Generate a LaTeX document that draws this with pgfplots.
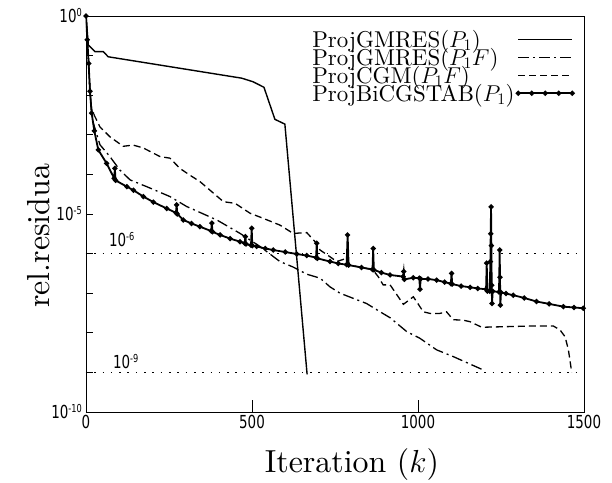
\RequirePackage{fix-cm}
\documentclass[border=0pt]{standalone}
\usepackage{fontspec}
\setmainfont{lmroman10-regular}[Extension=.otf, ItalicFont=lmroman10-italic, BoldFont=lmroman10-bold]
\usepackage{graphicx}
\usepackage{pgfplots}
\pgfplotsset{compat=1.18}
\newfontfamily\tickfont{DejaVu Sans}
\newcommand{\tl}[1]{\scalebox{0.75}[1]{\tickfont\fontsize{18}{18}\selectfont #1}}
\newcommand{\tp}[2]{\scalebox{0.75}[1]{\tickfont\fontsize{18}{18}\selectfont #1\raisebox{6bp}{\fontsize{11}{11}\selectfont #2}}}
\pgfplotsset{bicglegend/.style={legend image code/.code={\draw[##1] plot coordinates {(0bp,0bp) (13.5bp,0bp) (27bp,0bp) (40.5bp,0bp) (54bp,0bp)};}}}
\begin{document}
\begin{tikzpicture}
\begin{axis}[
  scale only axis, width=498bp, height=396bp,
  xmin=0, xmax=1500, ymode=log, ymin=1e-10, ymax=1,
  axis line style={line width=0.8bp},
  tick align=inside, xtick pos=left, ytick pos=left,
  xtick={0,500,1000,1500},
  xticklabels={\tl{0},\tl{500},\tl{1000},\tl{1500}},
  ytick={1e-10,1e-5,1},
  yticklabels={\tp{10}{-10},\tp{10}{-5},\tp{10}{0}},
  minor ytick={1e-9,1e-8,1e-7,1e-6,1e-4,1e-3,1e-2,1e-1},
  major tick length=7bp, minor tick length=7bp,
  xtick style={/pgfplots/major tick length=12bp},
  tick style={black, line width=0.8bp},
  xticklabel style={inner sep=0pt, yshift=-3bp},
  yticklabel style={anchor=base east, inner sep=0pt, xshift=-4bp, yshift=-6.5bp},
  xlabel={Iteration ($k$)},
  ylabel={rel.residua},
  xlabel style={font=\fontsize{32}{38}\selectfont, inner sep=0pt, anchor=base, at={(axis description cs:0.534,-0.1515)}},
  ylabel style={font=\fontsize{32}{38}\selectfont, inner sep=0pt, anchor=south, rotate=0, at={(axis description cs:-0.0723,0.445)}},
  legend style={at={(1,1)}, anchor=north east, xshift=-10bp, yshift=-13.5bp, draw=none, fill=white,
    font=\fontsize{23}{26}\selectfont, inner xsep=0bp, inner ysep=0bp,
    nodes={inner xsep=2bp, inner ysep=0.3bp}, row sep=-1.3bp,
    /tikz/column 2/.style={column sep=13bp}},
  legend cell align=left, legend plot pos=right,
  legend image code/.code={\draw[#1] (0bp,0bp) -- (54bp,0bp);},
]
% ProjGMRES(P1)
\addplot[black, line width=1.4bp] coordinates {
(0,1) (7,1.862e-1) (27,1.259e-1) (52,1.259e-1) (67,9.333e-2) (469,2.692e-2)
(503,2.188e-2) (536,1.585e-2) (569,2.455e-3) (599,1.862e-3) (666,8.913e-10)
};
\addlegendentry{ProjGMRES($P_1$)}
% ProjGMRES(P1F)
\addplot[black, line width=1.3bp, dash pattern=on 11bp off 4bp on 2bp off 4bp] coordinates {
(0,1) (4,2.512e-1) (8,6.310e-2) (12,1.259e-2) (17,3.981e-3) (22,1.995e-3)
(42,5.623e-4) (72,2.818e-4) (102,1.288e-4) (133,7.244e-5) (183,4.898e-5)
(253,2.754e-5) (303,1.549e-5) (394,7.079e-6) (464,3.236e-6) (524,1.514e-6)
(584,6.310e-7) (624,4.571e-7) (665,3.020e-7) (705,2.399e-7) (735,1.445e-7)
(765,1.000e-7) (845,5.495e-8) (886,3.388e-8) (916,2.399e-8) (966,1.072e-8)
(1006,7.244e-9) (1056,3.715e-9) (1106,2.512e-9) (1197,1.148e-9)
};
\addlegendentry{ProjGMRES($P_1F$)}
% ProjCGM(P1F)
\addplot[black, line width=1.3bp, dash pattern=on 7bp off 4bp] coordinates {
(0,1) (4,2.512e-1) (8,6.310e-2) (12,1.259e-2) (17,4.266e-3) (42,1.585e-3)
(72,8.913e-4) (112,5.129e-4) (142,5.495e-4) (172,4.677e-4) (223,2.818e-4)
(253,2.570e-4) (283,1.413e-4) (313,9.550e-5) (343,6.607e-5) (414,2.042e-5)
(449,1.862e-5) (494,1.047e-5) (534,7.762e-6) (584,5.248e-6) (624,3.236e-6)
(665,3.388e-6) (690,1.995e-6) (705,1.230e-6) (735,8.318e-7) (755,6.310e-7)
(785,7.586e-7) (795,5.129e-7) (864,3.890e-7) (880,2.630e-7) (895,1.622e-7)
(916,1.622e-7) (956,5.248e-8) (986,8.128e-8) (1016,3.388e-8) (1036,3.090e-8)
(1066,3.090e-8) (1086,3.388e-8) (1106,2.138e-8) (1136,2.089e-8) (1157,1.905e-8)
(1192,1.380e-8) (1337,1.479e-8) (1408,1.479e-8) (1428,1.175e-8) (1443,7.943e-9)
(1453,3.715e-9) (1463,1.000e-9)
};
\addlegendentry{ProjCGM($P_1F$)}
% ProjBiCGSTAB(P1)
\addplot[black, line width=1.8bp, mark=*, mark size=1.6bp, bicglegend]
coordinates {
(0,1) (4,2.512e-1) (8,6.310e-2) (12,1.259e-2) (17,3.548e-3) (25,1.259e-3)
(37,4.169e-4) (62,1.905e-4) (85,7.943e-5) (87,1.413e-4) (89,7.079e-5)
(123,4.898e-5) (143,3.981e-5) (173,2.754e-5) (203,1.995e-5) (243,1.380e-5)
(271,1.072e-5) (273,1.698e-5) (275,1.000e-5) (293,7.079e-6) (318,5.754e-6)
(343,4.786e-6) (377,3.715e-6) (379,5.888e-6) (381,3.548e-6) (404,2.951e-6)
(434,2.399e-6) (464,1.995e-6) (478,1.820e-6) (480,2.692e-6) (482,1.738e-6)
(497,1.622e-6) (499,4.365e-6) (501,1.585e-6) (514,1.514e-6) (540,1.349e-6)
(564,1.230e-6) (600,1.096e-6) (635,9.772e-7) (665,8.913e-7) (693,7.943e-7)
(695,1.820e-6) (697,7.586e-7) (735,6.310e-7) (760,5.623e-7) (785,5.248e-7)
(788,2.951e-6) (791,5.129e-7) (830,4.467e-7) (863,3.981e-7) (865,1.349e-6)
(867,3.890e-7) (890,3.311e-7) (916,2.884e-7) (955,2.630e-7) (957,3.548e-7)
(959,2.239e-7) (986,2.455e-7) (1004,2.400e-7) (1006,1.259e-7) (1008,2.300e-7)
(1030,2.291e-7) (1056,2.138e-7) (1080,1.905e-7) (1099,1.738e-7) (1101,3.162e-7)
(1103,1.698e-7) (1130,1.514e-7) (1157,1.413e-7) (1180,1.318e-7) (1205,1.259e-7)
(1207,5.754e-7) (1209,1.122e-7) (1216,1.122e-7) (1218,6.310e-7) (1219,3.162e-6)
(1220,1.514e-5) (1221,1.585e-6) (1222,1.585e-7) (1223,5.495e-8) (1225,1.122e-7)
(1244,1.072e-7) (1246,1.230e-6) (1247,2.512e-7) (1248,5.012e-8) (1250,1.047e-7)
(1265,9.772e-8) (1287,8.913e-8) (1320,7.586e-8) (1357,6.166e-8) (1395,5.370e-8)
(1438,4.571e-8) (1470,4.365e-8) (1498,4.169e-8)
};
\addlegendentry{ProjBiCGSTAB($P_1$)}
% thresholds
\addplot[black, line width=1.6bp, dash pattern=on 1.6bp off 6.7bp, forget plot] coordinates {(0,1e-6) (1500,1e-6)};
\addplot[black, line width=1.6bp, dash pattern=on 1.6bp off 6.7bp, forget plot] coordinates {(0,1e-9) (1500,1e-9)};
\node[anchor=base west, inner sep=0pt, yshift=7.6bp] at (axis cs:69,1e-6) {\tp{10}{-6}};
\node[anchor=base west, inner sep=0pt, yshift=3.7bp] at (axis cs:81,1e-9) {\tp{10}{-9}};
\end{axis}
\path (-86bp,-71bp) rectangle (526bp,412bp);
\end{tikzpicture}
\end{document}
